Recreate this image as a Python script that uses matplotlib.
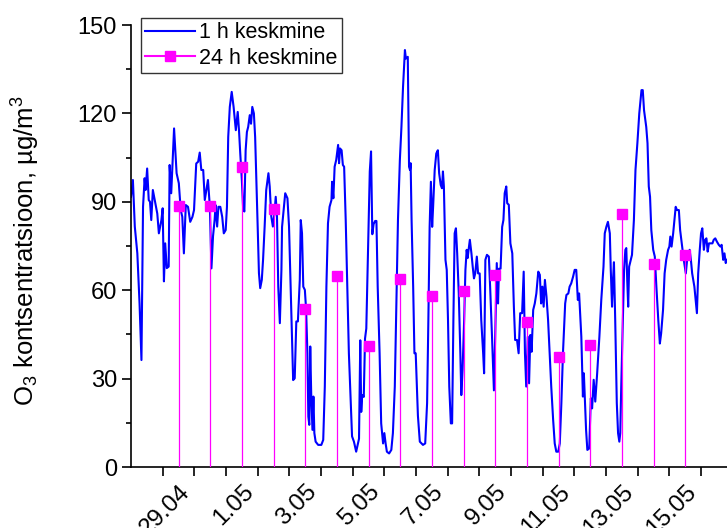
import matplotlib
matplotlib.use('Agg')
import matplotlib.pyplot as plt
from matplotlib.lines import Line2D
from matplotlib.transforms import ScaledTranslation

plt.rcParams['font.family'] = ['Liberation Sans', 'DejaVu Sans']
plt.rcParams['mathtext.default'] = 'regular'

# time in days from 27.04 00:00, ozone 1 h average (ug/m3)
hour_day = [
    0.00, 0.06, 0.12, 0.20, 0.27, 0.33, 0.38, 0.43, 0.46, 0.51, 0.56, 0.60, 0.64, 0.69, 0.77, 0.83,
    0.88, 0.96, 1.00, 1.04, 1.08, 1.13, 1.19, 1.22, 1.27, 1.36, 1.44, 1.51, 1.57, 1.62, 1.67, 1.73,
    1.80, 1.87, 1.94, 1.99, 2.06, 2.12, 2.17, 2.22, 2.28, 2.33, 2.43, 2.49, 2.54, 2.59, 2.64, 2.67,
    2.72, 2.76, 2.82, 2.88, 2.93, 2.99, 3.03, 3.07, 3.12, 3.18, 3.24, 3.31, 3.37, 3.41, 3.45, 3.50,
    3.54, 3.58, 3.62, 3.66, 3.70, 3.75, 3.79, 3.83, 3.88, 3.92, 3.96, 4.00, 4.04, 4.08, 4.13, 4.17,
    4.22, 4.27, 4.34, 4.38, 4.43, 4.48, 4.53, 4.57, 4.61, 4.65, 4.70, 4.75, 4.77, 4.87, 4.94, 4.99,
    5.04, 5.12, 5.17, 5.22, 5.27, 5.33, 5.36, 5.40, 5.44, 5.49, 5.53, 5.57, 5.60, 5.63, 5.66, 5.69,
    5.73, 5.76, 5.79, 5.83, 5.91, 6.01, 6.07, 6.12, 6.17, 6.22, 6.27, 6.33, 6.35, 6.39, 6.43, 6.48,
    6.54, 6.57, 6.60, 6.65, 6.69, 6.73, 6.78, 6.83, 6.88, 6.94, 6.98, 7.04, 7.11, 7.20, 7.24, 7.27,
    7.30, 7.35, 7.39, 7.43, 7.48, 7.54, 7.58, 7.62, 7.66, 7.71, 7.75, 7.79, 7.85, 7.90, 7.96, 8.00,
    8.04, 8.08, 8.15, 8.22, 8.27, 8.33, 8.38, 8.43, 8.49, 8.54, 8.59, 8.65, 8.68, 8.74, 8.78, 8.81,
    8.83, 8.86, 8.91, 8.95, 8.99, 9.06, 9.12, 9.22, 9.29, 9.35, 9.39, 9.43, 9.47, 9.51, 9.54, 9.59,
    9.64, 9.69, 9.73, 9.78, 9.82, 9.85, 9.88, 9.93, 9.97, 10.01, 10.05, 10.10, 10.14, 10.18, 10.22, 10.26,
    10.30, 10.35, 10.40, 10.43, 10.47, 10.52, 10.56, 10.60, 10.63, 10.66, 10.70, 10.75, 10.79, 10.83, 10.87, 10.92,
    10.96, 11.01, 11.06, 11.12, 11.15, 11.19, 11.24, 11.30, 11.34, 11.40, 11.46, 11.50, 11.55, 11.59, 11.62, 11.67,
    11.72, 11.76, 11.80, 11.85, 11.88, 11.93, 11.98, 12.04, 12.09, 12.13, 12.19, 12.24, 12.29, 12.35, 12.40, 12.44,
    12.48, 12.53, 12.57, 12.61, 12.65, 12.70, 12.75, 12.80, 12.86, 12.91, 12.95, 12.99, 13.03, 13.07, 13.12, 13.17,
    13.22, 13.27, 13.33, 13.38, 13.43, 13.49, 13.54, 13.59, 13.64, 13.71, 13.75, 13.81, 13.85, 13.90, 13.96, 14.01,
    14.06, 14.11, 14.15, 14.22, 14.27, 14.30, 14.33, 14.37, 14.41, 14.47, 14.52, 14.56, 14.61, 14.66, 14.72, 14.79,
    14.85, 14.92, 14.96, 15.01, 15.06, 15.12, 15.15, 15.19, 15.22, 15.25, 15.29, 15.34, 15.38, 15.42, 15.45, 15.48,
    15.53, 15.57, 15.61, 15.64, 15.67, 15.70, 15.73, 15.78, 15.82, 15.88, 15.93, 15.99, 16.05, 16.12, 16.16, 16.20,
    16.27, 16.31, 16.35, 16.39, 16.43, 16.49, 16.54, 16.59, 16.65, 16.70, 16.74, 16.80, 16.85, 16.90, 16.96, 17.00,
    17.03, 17.07, 17.12, 17.16, 17.20, 17.24, 17.30, 17.34, 17.39, 17.43, 17.47, 17.52, 17.56, 17.60, 17.64, 17.68,
    17.72, 17.79, 17.83, 17.87, 17.91, 17.96, 18.00, 18.04, 18.09, 18.13, 18.17, 18.21, 18.25, 18.36, 18.40, 18.45,
    18.50, 18.56, 18.61, 18.65, 18.70, 18.74, 18.78, 18.82,
]
hour_val = [
    91.7, 97.4, 81.6, 72.5, 55.5, 36.3, 88.3, 98.0, 94.0, 101.3, 90.6, 90.0, 83.8, 94.0, 89.4, 86.0,
    79.3, 83.8, 87.8, 63.0, 75.9, 67.5, 68.0, 102.5, 92.9, 114.9, 99.7, 96.3, 87.2, 84.9, 72.5, 88.9,
    88.3, 83.2, 84.9, 87.2, 103.0, 103.6, 106.7, 100.8, 100.8, 90.6, 97.4, 88.3, 67.4, 78.3, 83.8, 88.9,
    81.6, 88.3, 88.3, 84.9, 79.3, 80.4, 88.3, 112.0, 122.2, 127.3, 122.2, 114.3, 120.5, 114.3, 106.4, 97.4,
    87.8, 86.7, 107.5, 113.7, 115.4, 119.4, 116.5, 122.2, 120.0, 112.0, 97.4, 81.6, 65.8, 60.7, 63.5, 70.3,
    81.6, 94.0, 99.7, 95.2, 85.0, 81.6, 86.1, 91.7, 85.0, 61.2, 48.8, 66.9, 81.5, 92.9, 91.2, 81.6,
    61.2, 29.5, 30.1, 49.4, 49.4, 63.5, 83.8, 79.3, 61.2, 60.1, 53.3, 38.6, 17.1, 14.3, 40.9, 25.0,
    12.6, 23.9, 11.5, 8.6, 7.5, 7.5, 9.2, 27.3, 61.2, 82.7, 88.3, 90.6, 96.8, 91.2, 101.9, 104.2,
    109.3, 103.1, 108.1, 107.5, 102.5, 101.9, 83.8, 61.2, 38.6, 21.7, 10.4, 8.6, 5.2, 9.6, 43.0, 18.7,
    24.4, 23.8, 43.6, 47.0, 72.0, 100.3, 107.1, 79.0, 82.4, 83.5, 83.5, 61.2, 38.6, 14.8, 8.0, 11.5,
    8.0, 5.2, 4.6, 5.8, 11.5, 27.3, 55.5, 83.8, 104.2, 115.5, 129.0, 141.5, 138.6, 139.2, 101.9, 100.8,
    103.1, 83.8, 61.2, 38.6, 38.6, 17.4, 8.6, 7.5, 8.0, 21.7, 50.0, 81.5, 96.8, 81.5, 88.3, 100.8,
    106.4, 107.5, 99.7, 95.7, 94.6, 100.3, 95.2, 70.3, 66.9, 49.9, 27.3, 14.8, 14.8, 49.9, 79.3, 81.0,
    72.5, 58.9, 38.6, 24.4, 32.9, 49.9, 66.9, 73.7, 70.9, 73.7, 77.1, 72.5, 68.0, 64.0, 65.7, 71.4,
    65.7, 65.7, 49.9, 38.6, 31.8, 70.3, 72.0, 71.4, 61.2, 44.2, 26.0, 44.2, 69.2, 55.5, 67.3, 67.3,
    81.5, 83.8, 92.9, 95.2, 89.5, 89.0, 75.9, 72.5, 54.4, 43.1, 43.1, 38.6, 52.2, 52.2, 66.3, 38.6,
    27.3, 44.2, 28.4, 44.8, 39.1, 53.3, 55.5, 58.9, 66.3, 65.2, 55.5, 61.2, 54.4, 63.5, 57.8, 49.9,
    38.6, 27.3, 16.0, 8.0, 5.2, 5.2, 8.0, 21.7, 38.6, 55.5, 58.4, 58.9, 61.2, 62.3, 64.6, 66.9,
    66.9, 56.7, 58.9, 44.2, 23.9, 31.8, 23.9, 12.6, 5.8, 6.3, 23.3, 19.9, 29.6, 22.2, 31.8, 44.2,
    56.7, 68.0, 79.3, 81.5, 83.2, 79.3, 66.9, 54.4, 63.3, 69.5, 49.9, 21.7, 11.5, 8.6, 11.5, 27.3,
    49.9, 66.9, 73.7, 74.3, 63.3, 54.4, 68.0, 70.3, 72.0, 83.8, 100.8, 109.9, 120.0, 127.9, 127.9, 121.1,
    115.4, 109.9, 95.2, 91.7, 80.4, 73.7, 71.4, 61.2, 49.9, 41.9, 45.3, 53.3, 65.7, 70.3, 73.7, 74.8,
    78.2, 74.8, 79.3, 83.8, 88.3, 87.2, 87.2, 80.4, 75.9, 72.5, 69.2, 65.7, 70.3, 70.3, 73.7, 70.3,
    65.7, 61.2, 56.7, 52.2, 65.7, 73.7, 79.3, 81.0, 73.7, 77.1, 77.6, 73.1, 75.9, 75.9, 77.1, 77.6,
    76.5, 75.4, 74.8, 75.4, 70.3, 72.5, 69.2, 70.3,
]

# 24 h averages, plotted at noon of each day
day_mid = [1.5, 2.5, 3.5, 4.5, 5.5, 6.5, 7.5, 8.5, 9.5, 10.5, 11.5, 12.5, 13.5, 14.5, 15.5, 16.5, 17.5]
day_val = [88.7, 88.7, 101.9, 87.5, 53.5, 64.8, 41.2, 63.8, 58.1, 59.8, 65.3, 49.3, 37.4, 41.5, 85.7, 68.8, 72.0]

tick_days = [2, 4, 6, 8, 10, 12, 14, 16, 18]
tick_labels = ['29.04', '1.05', '3.05', '5.05', '7.05', '9.05', '11.05', '13.05', '15.05']

fig = plt.figure(figsize=(7.27, 5.28), dpi=100)
ax = fig.add_axes([131 / 727, 61 / 528, 596 / 727, 442 / 528])

ax.plot(hour_day, hour_val, color='#0000ff', lw=1.5, zorder=2)
ax.vlines(day_mid, 0, day_val, color='#ff00ff', lw=0.9, zorder=3)
ax.plot(day_mid, day_val, ls='none', marker='s', ms=7.5, color='#ff00ff', zorder=4)

ax.set_xlim(0, 18.82)
ax.set_ylim(0, 150)
ax.set_yticks([0, 30, 60, 90, 120, 150])
ax.set_yticks([15, 45, 75, 105, 135], minor=True)
ax.set_xticks(tick_days)
ax.set_xticklabels(tick_labels, rotation=45, ha='right')
ax.set_xticks([d - 1 for d in tick_days], minor=True)

# nudge the rotated date labels a little to the left
shift = ScaledTranslation(-4 / 100, 0, fig.dpi_scale_trans)
for lab in ax.get_xticklabels():
    lab.set_transform(lab.get_transform() + shift)

for s in ['top', 'right']:
    ax.spines[s].set_visible(False)
for s in ['left', 'bottom']:
    ax.spines[s].set_linewidth(1.2)

ax.tick_params(axis='x', which='major', labelsize=17.5)
ax.tick_params(axis='y', which='major', labelsize=17)
ax.tick_params(axis='both', which='major', width=1.2, length=6.5, direction='out')
ax.tick_params(axis='y', which='minor', width=1.2, length=3.5)
ax.tick_params(axis='x', which='minor', width=1.2, length=6.5)

ax.set_ylabel('O$_3$ kontsentratsioon, µg/m$^3$', fontsize=18.5)
ax.yaxis.set_label_coords(-0.149, 0.49)

handles = [
    Line2D([], [], color='#0000ff', lw=1.5),
    Line2D([], [], color='#ff00ff', lw=1.5, marker='s', ms=7.5),
]
leg = ax.legend(handles, ['1 h keskmine', '24 h keskmine'], loc='upper left',
                bbox_to_anchor=(141 / 727, 1 - 18 / 528), bbox_transform=fig.transFigure,
                fontsize=15.5, frameon=True, fancybox=False, edgecolor='black',
                handlelength=2.3, handletextpad=0.2, borderpad=0.2, labelspacing=0.2,
                borderaxespad=0)
leg.get_frame().set_linewidth(1.0)

fig.savefig('out.png', dpi=100)
plt.close(fig)
